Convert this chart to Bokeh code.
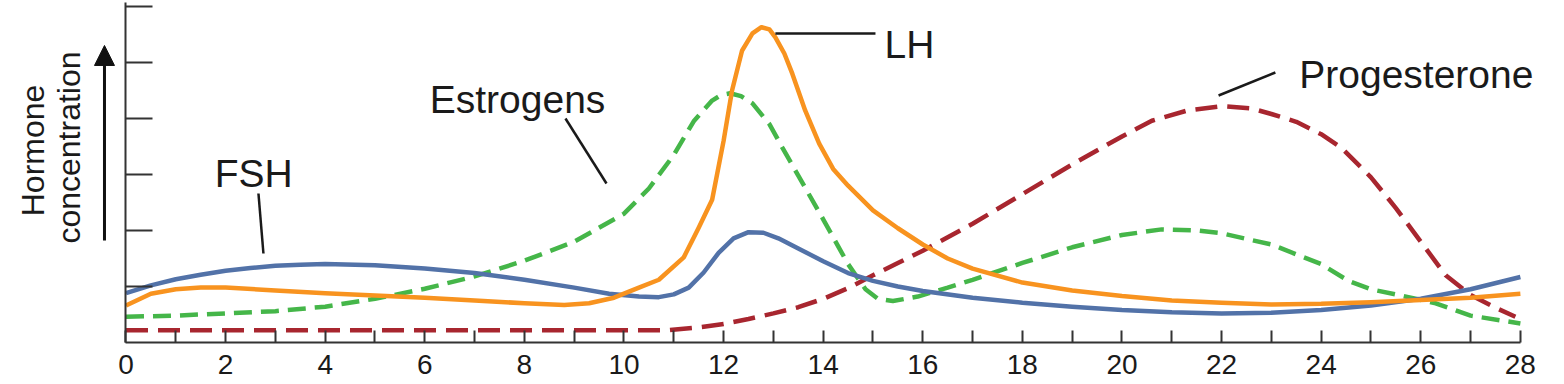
from bokeh.plotting import figure
from bokeh.models import Label, Arrow, NormalHead, FixedTicker, Range1d
from bokeh.embed import file_html
from bokeh.resources import INLINE
import math

# ---- data (day of cycle, relative hormone concentration) ----
fsh_day = [0, 0.5, 1, 1.5, 2, 2.5, 3, 3.5, 4, 5, 6, 7, 8, 9, 9.7, 10.3, 10.7, 11.0, 11.3, 11.6,
           11.9, 12.2, 12.5, 12.8, 13.1, 13.5, 14, 14.5, 15, 15.5, 16, 17, 18, 19, 20, 21, 22, 23,
           24, 25, 26, 27, 28]
fsh_val = [0.88, 1.02, 1.13, 1.21, 1.28, 1.33, 1.37, 1.39, 1.40, 1.38, 1.32, 1.24, 1.12, 0.98, 0.87,
           0.82, 0.81, 0.86, 0.98, 1.25, 1.60, 1.86, 1.97, 1.96, 1.86, 1.68, 1.45, 1.24, 1.10, 1.00,
           0.92, 0.80, 0.71, 0.64, 0.58, 0.54, 0.52, 0.53, 0.58, 0.66, 0.78, 0.95, 1.17]

lh_day = [0, 0.5, 1, 1.5, 2, 3, 4, 5, 6, 7, 8, 8.8, 9.3, 9.8, 10.3, 10.7, 11.2, 11.5, 11.77, 12.0,
          12.17, 12.37, 12.58, 12.76, 12.92, 13.04, 13.22, 13.38, 13.64, 13.92, 14.2, 14.5, 15,
          15.5, 16, 16.5, 17, 18, 19, 20, 21, 22, 23, 24, 25, 26, 27, 28]
lh_val = [0.66, 0.87, 0.95, 0.98, 0.98, 0.93, 0.88, 0.84, 0.80, 0.75, 0.70, 0.67, 0.70, 0.80, 0.98,
          1.12, 1.52, 2.05, 2.55, 3.60, 4.50, 5.21, 5.52, 5.63, 5.59, 5.45, 5.16, 4.80, 4.14, 3.55,
          3.10, 2.80, 2.36, 2.04, 1.75, 1.50, 1.32, 1.07, 0.93, 0.83, 0.75, 0.71, 0.68, 0.69, 0.72,
          0.76, 0.80, 0.87]

est_day = [0, 1, 1.5, 2, 3, 4, 5, 6, 7, 8, 9, 10, 10.5, 11, 11.4, 11.77, 11.95, 12.13, 12.35, 12.58,
           12.92, 13.18, 13.5, 14, 14.5, 14.85, 15.1, 15.4, 15.9, 16.5, 17, 18, 19, 20, 20.8, 21.5,
           22, 23, 24, 24.55, 25, 25.6, 26.3, 27, 28]
est_val = [0.46, 0.48, 0.50, 0.52, 0.56, 0.64, 0.78, 0.96, 1.18, 1.46, 1.80, 2.30, 2.75, 3.35, 3.95,
           4.32, 4.42, 4.45, 4.40, 4.27, 3.90, 3.48, 2.98, 2.20, 1.40, 0.95, 0.78, 0.74, 0.82, 0.98,
           1.12, 1.42, 1.70, 1.92, 2.02, 2.00, 1.95, 1.75, 1.40, 1.10, 0.95, 0.84, 0.70, 0.48, 0.34]

prog_day = [0, 10.9, 11.5, 12, 12.5, 13, 13.5, 14, 14.5, 15, 15.5, 16, 17, 18, 19, 20, 20.6, 21.3,
            22, 22.6, 23, 23.5, 24, 24.4, 25, 25.5, 26, 26.5, 27, 27.5, 27.9]
prog_val = [0.22, 0.22, 0.27, 0.33, 0.42, 0.52, 0.63, 0.78, 0.97, 1.20, 1.42, 1.64, 2.12, 2.65, 3.18,
            3.68, 3.96, 4.14, 4.22, 4.18, 4.08, 3.94, 3.72, 3.48, 2.95, 2.40, 1.80, 1.20, 0.85, 0.62,
            0.46]

x_ticks = list(range(0, 29, 2))
x_minor = list(range(1, 28, 2))
y_ticks = [1, 2, 3, 4, 5, 6]

FONT = "Liberation Sans"
INK = "#1a1a1a"
AX = "#333333"

p = figure(width=1564, height=384, output_backend="svg", toolbar_location=None,
           x_range=Range1d(-2.520, 28.886), y_range=Range1d(-0.75, 6.107),
           min_border_left=0, min_border_right=0, min_border_top=0, min_border_bottom=0)
p.outline_line_color = None
p.xgrid.visible = False
p.ygrid.visible = False
p.background_fill_color = "white"
p.border_fill_color = "white"

# axes (drawn inside the frame at 0, limited to the data extent)
p.xaxis.fixed_location = 0
p.xaxis.bounds = (0, 28)
p.xaxis.ticker = FixedTicker(ticks=x_ticks, minor_ticks=x_minor)
p.xaxis.major_tick_in = 12
p.xaxis.major_tick_out = 0
p.xaxis.minor_tick_in = 12
p.xaxis.minor_tick_out = 0
p.xaxis.major_label_text_font = FONT
p.xaxis.major_label_text_font_size = "28px"
p.xaxis.major_label_text_color = INK
p.xaxis.major_label_standoff = 13
p.xaxis.axis_line_color = AX
p.xaxis.axis_line_width = 2
p.xaxis.major_tick_line_color = AX
p.xaxis.minor_tick_line_color = AX
p.xaxis.major_tick_line_width = 2
p.xaxis.minor_tick_line_width = 2

p.yaxis.fixed_location = 0
p.yaxis.bounds = (0, 6.07)
p.yaxis.ticker = FixedTicker(ticks=y_ticks)
p.yaxis.major_tick_in = 27
p.yaxis.major_tick_out = 0
p.yaxis.minor_tick_line_color = None
p.yaxis.major_label_overrides = {t: "" for t in y_ticks}
p.yaxis.axis_line_color = AX
p.yaxis.axis_line_width = 2
p.yaxis.major_tick_line_color = AX
p.yaxis.major_tick_line_width = 2

# curves
p.line(prog_day, prog_val, line_color="#a8262f", line_width=4.5, line_dash="22 10")
p.line(est_day, est_val, line_color="#45b649", line_width=4.5, line_dash="18 9")
p.line(fsh_day, fsh_val, line_color="#5272a8", line_width=4.5, line_join="round")
p.line(lh_day, lh_val, line_color="#f8931f", line_width=4.5, line_join="round")

# leader lines
p.segment(x0=[2.66, 8.825, 13.04, 21.94], y0=[2.661, 4.00, 5.518, 4.411],
          x1=[2.76, 9.649, 15.05, 23.08], y1=[1.589, 2.839, 5.518, 4.821],
          line_color=INK, line_width=2.5)

for txt, x, y in [("FSH", 1.78, 3.018), ("Estrogens", 6.10, 4.339), ("LH", 15.23, 5.321),
                  ("Progesterone", 23.56, 4.786)]:
    p.add_layout(Label(x=x, y=y, text=txt, text_font=FONT, text_font_size="39px",
                       text_color=INK, text_align="left", text_baseline="middle"))

# y-axis title and arrow
p.add_layout(Label(x=-1.877, y=3.429, text="Hormone", angle=math.pi / 2, text_font=FONT,
                   text_font_size="32px", text_color=INK, text_align="center",
                   text_baseline="middle"))
p.add_layout(Label(x=-1.145, y=3.482, text="concentration", angle=math.pi / 2, text_font=FONT,
                   text_font_size="32px", text_color=INK, text_align="center",
                   text_baseline="middle"))
p.add_layout(Arrow(end=NormalHead(size=20, fill_color="#111111", line_color="#111111"),
                   x_start=-0.432, y_start=1.821, x_end=-0.432, y_end=5.304,
                   line_width=3, line_color="#111111"))

open("out.html", "w").write(file_html(p, INLINE))
